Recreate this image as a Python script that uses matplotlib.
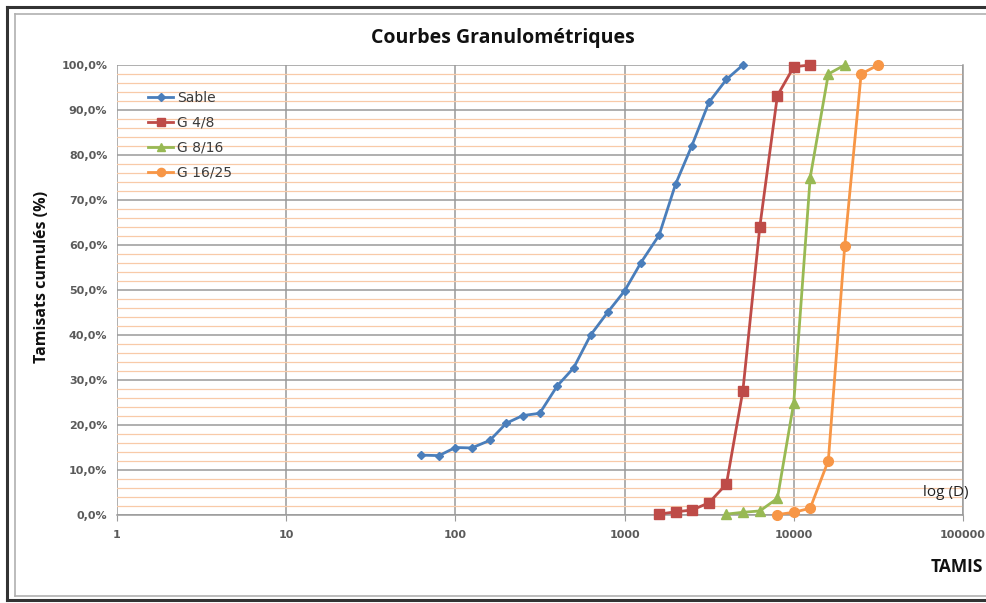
import numpy as np
import matplotlib.pyplot as plt
from matplotlib.ticker import FixedLocator, MultipleLocator, FuncFormatter, NullLocator
from matplotlib.lines import Line2D

# tamis (microns) et tamisats cumulés (%)
d_sable = [63, 80, 100, 125, 160, 200, 250, 315, 400, 500, 630, 800, 1000,
           1250, 1600, 2000, 2500, 3150, 4000, 5000]
p_sable = [13.3, 13.2, 15.0, 14.9, 16.6, 20.4, 22.1, 22.6, 28.7, 32.7, 40.0,
           45.2, 49.8, 56.1, 62.2, 73.5, 82.1, 91.7, 96.8, 100.0]

d_g48 = [1600, 2000, 2500, 3150, 4000, 5000, 6300, 8000, 10000, 12500]
p_g48 = [0.2, 0.7, 1.1, 2.7, 6.9, 27.6, 64.1, 93.2, 99.6, 100.0]

d_g816 = [4000, 5000, 6300, 8000, 10000, 12500, 16000, 20000]
p_g816 = [0.2, 0.6, 0.9, 3.7, 25.0, 75.0, 98.0, 100.0]

d_g1625 = [8000, 10000, 12500, 16000, 20000, 25000, 31500]
p_g1625 = [0.1, 0.6, 1.5, 12.1, 59.8, 98.0, 100.0]

x_ticks = [1, 10, 100, 1000, 10000, 100000]

W, H = 987, 603
fig = plt.figure(figsize=(W / 100, H / 100), dpi=100)
fig.patch.set_facecolor('white')

# cadre du graphique
def hline(y, x0, x1, **kw):
    fig.add_artist(Line2D([x0 / W, x1 / W], [1 - y / H, 1 - y / H], **kw))

def vline(x, y0, y1, **kw):
    fig.add_artist(Line2D([x / W, x / W], [1 - y0 / H, 1 - y1 / H], **kw))

hline(7, 7, 987, color='#333333', lw=2.2)
vline(7, 7, 600, color='#333333', lw=2.2)
hline(600, 7, 987, color='#333333', lw=2.2)
hline(14, 15, 987, color='#b0b0b0', lw=1.2)
vline(15, 14, 596, color='#b0b0b0', lw=1.2)
hline(596, 15, 987, color='#b0b0b0', lw=1.2)

ax = fig.add_axes([117 / W, 1 - 515 / H, 846 / W, 450 / H])
ax.set_xscale('log')
ax.set_xlim(1, 100000)
ax.set_ylim(0, 100)

ax.xaxis.set_major_locator(FixedLocator(x_ticks))
ax.xaxis.set_minor_locator(NullLocator())
ax.xaxis.set_major_formatter(FuncFormatter(lambda v, pos: f'{int(v)}'))
ax.yaxis.set_major_locator(MultipleLocator(10))
ax.yaxis.set_minor_locator(MultipleLocator(2))
ax.yaxis.set_major_formatter(FuncFormatter(lambda v, pos: f'{v:.1f}%'.replace('.', ',')))

ax.grid(which='minor', axis='y', color='#f8caa8', lw=0.9)
ax.grid(which='major', axis='y', color='#9a9a9a', lw=1.1)
ax.grid(which='major', axis='x', color='#9a9a9a', lw=1.1)
ax.set_axisbelow(True)

for s in ['left', 'top']:
    ax.spines[s].set_visible(False)
for s in ['right', 'bottom']:
    ax.spines[s].set_color('#9a9a9a')
    ax.spines[s].set_linewidth(1.1)

ax.tick_params(axis='y', which='both', length=0, pad=7,
               labelsize=8, labelcolor='#5a5a5a')
ax.tick_params(axis='x', which='major', length=4, color='#9a9a9a', pad=7,
               labelsize=8, labelcolor='#5a5a5a')
for lab in ax.get_xticklabels() + ax.get_yticklabels():
    lab.set_fontweight('bold')

ax.plot(d_sable, p_sable, color='#4a7ebb', lw=2, marker='D', ms=4.5,
        label='Sable', clip_on=False, zorder=3)
ax.plot(d_g48, p_g48, color='#be4b48', lw=2, marker='s', ms=6.5,
        label='G 4/8', clip_on=False, zorder=3)
ax.plot(d_g816, p_g816, color='#98b954', lw=2, marker='^', ms=7,
        label='G 8/16', clip_on=False, zorder=3)
ax.plot(d_g1625, p_g1625, color='#f79646', lw=2, marker='o', ms=7,
        label='G 16/25', clip_on=False, zorder=3)

leg = ax.legend(loc='upper left', bbox_to_anchor=(0.022, 0.97), frameon=False,
                fontsize=10, handlelength=1.8, handletextpad=0.3,
                labelspacing=0.78, markerscale=0.85)
for t in leg.get_texts():
    t.set_color('#3a3a3a')

fig.text(503 / W, 1 - 38 / H, 'Courbes Granulométriques', ha='center',
         va='center', fontsize=14, fontweight='bold', family='Open Sans',
         color='#111111')
fig.text(42 / W, 1 - 277 / H, 'Tamisats cumulés (%)', ha='center',
         va='center', rotation=90, fontsize=11.5, fontweight='bold',
         family='Open Sans', color='#111111')
fig.text(946 / W, 1 - 492 / H, 'log (D)', ha='center', va='center',
         fontsize=11, family='Open Sans', color='#222222')
fig.text(957 / W, 1 - 567 / H, 'TAMIS', ha='center', va='center',
         fontsize=12.5, fontweight='bold', family='Open Sans', color='#111111')

fig.savefig('out.png', dpi=100)
